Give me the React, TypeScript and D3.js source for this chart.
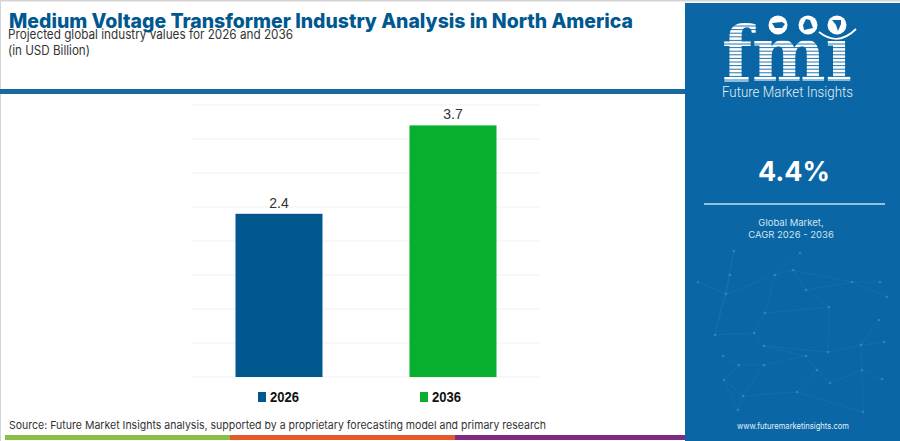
import React, { useEffect } from "react";
import * as d3 from "d3";

const categories = ["2026", "2036"];
const values = [2.4, 3.7];
const barLabels = ["2.4", "3.7"];
const gridTicks = [0, 0.5, 1, 1.5, 2, 2.5, 3, 3.5, 4];
const barColors = ["#00588f", "#08ae2e"];
const stripeColors = ["#8abf45", "#e4592a", "#7f2a85"];
const stripeEdges = [5, 230, 455, 685];

// decoration behind the panel's lower half, panel coordinates
const netNodes: [number, number][] = [
	[734, 251], [730, 275], [698, 282], [726, 294], [775, 275], [793, 270], [800, 253], [806, 290],
	[852, 282], [880, 282], [887, 297], [765, 313], [829, 307], [879, 320], [715, 335], [754, 333],
	[764, 346], [828, 352], [861, 345], [884, 342], [723, 356], [739, 365], [764, 365], [806, 356],
	[817, 370], [724, 380], [743, 396], [797, 392], [830, 383], [862, 370], [738, 410], [863, 412],
	[882, 379],
];
const netLinks: [number, number][] = [
	[0, 3], [2, 3], [3, 4], [4, 5], [5, 7], [6, 4], [5, 8], [8, 9], [7, 8], [8, 10], [4, 11], [11, 15],
	[3, 14], [14, 15], [15, 16], [16, 17], [11, 12], [12, 17], [17, 18], [18, 19], [13, 18], [16, 23],
	[22, 23], [23, 24], [21, 22], [20, 21], [21, 25], [25, 26], [22, 26], [26, 27], [24, 27], [24, 28],
	[28, 29], [29, 31], [18, 29], [27, 31], [25, 30], [26, 30], [29, 32], [7, 12], [1, 3], [0, 14],
];

const width = 900;
const height = 441;

export default function App() {
	useEffect(() => {
		document.body.style.margin = "0";
		document.body.style.background = "#fff";
	}, []);

	const x = d3.scaleBand<string>().domain(categories).range([192, 540]).paddingInner(0.5).paddingOuter(0.25);
	const y = d3.scaleLinear().domain([0, 4]).range([377, 105]);
	const legendX = d3.scalePoint<string>().domain(categories).range([258, 420]);

	const poppins = "Inter, 'Open Sans', sans-serif";
	const logoStripes = d3.range(26, 82, 3.6);

	return (
		<svg width={width} height={height} viewBox={`0 0 ${width} ${height}`} style={{ display: "block" }}>
			<rect x={0} y={0} width={width} height={height} fill="#fff" />
			<rect x={0} y={0} width={width} height={1.5} fill="#d4d4d4" />
			<rect x={0} y={0} width={1} height={height} fill="#d4d4d4" />

			{/* header */}
			<text x={9} y={28} fontFamily={poppins} fontWeight={800} fontSize={20} fill="#00588f" textLength={624} lengthAdjust="spacingAndGlyphs">
				Medium Voltage Transformer Industry Analysis in North America
			</text>
			<text x={8} y={39} fontFamily={poppins} fontSize={13} fill="#333" textLength={285} lengthAdjust="spacingAndGlyphs">
				Projected global industry values for 2026 and 2036
			</text>
			<text x={8} y={55} fontFamily={poppins} fontSize={13} fill="#333" textLength={82} lengthAdjust="spacingAndGlyphs">
				(in USD Billion)
			</text>
			<rect x={0} y={89} width={686} height={5} fill="#17699f" />

			{/* grid */}
			{gridTicks.map((t) => (
				<line key={t} x1={192} x2={540} y1={y(t)} y2={y(t)} stroke="#f2f2f2" strokeWidth={1.2} />
			))}

			{/* bars */}
			{categories.map((c, i) => (
				<g key={c}>
					<rect x={x(c)} y={y(values[i])} width={x.bandwidth()} height={y(0) - y(values[i])} fill={barColors[i]} />
					<text x={x(c)! + x.bandwidth() / 2} y={y(values[i]) - 6} textAnchor="middle" fontFamily="'Liberation Sans', Arial, sans-serif" fontSize={14} fill="#333">
						{barLabels[i]}
					</text>
				</g>
			))}

			{/* legend */}
			{categories.map((c, i) => {
				const lx = legendX(c)!;
				return (
					<g key={c}>
						<rect x={lx} y={392} width={8} height={10} fill={barColors[i]} />
						<text x={lx + 12} y={402} fontFamily="'Liberation Sans', Arial, sans-serif" fontWeight={700} fontSize={14} fill="#111" textLength={29} lengthAdjust="spacingAndGlyphs">
							{c}
						</text>
					</g>
				);
			})}

			{/* source + stripe */}
			<text x={9} y={429} fontFamily={poppins} fontSize={11} fill="#333" textLength={537} lengthAdjust="spacingAndGlyphs">
				Source: Future Market Insights analysis, supported by a proprietary forecasting model and primary research
			</text>
			{stripeColors.map((col, i) => (
				<rect key={col} x={stripeEdges[i]} y={435} width={stripeEdges[i + 1] - stripeEdges[i]} height={5} fill={col} />
			))}

			{/* side panel */}
			<rect x={685} y={3} width={215} height={438} fill="#0a66a4" />

			<g opacity={0.1} stroke="#9fd0ea" strokeWidth={0.7}>
				{netLinks.map(([a, b], i) => (
					<line key={i} x1={netNodes[a][0]} y1={netNodes[a][1]} x2={netNodes[b][0]} y2={netNodes[b][1]} />
				))}
			</g>
			<g opacity={0.22} fill="#b8def2">
				{netNodes.map(([cx, cy], i) => (
					<circle key={i} cx={cx} cy={cy} r={1.3} />
				))}
			</g>

			{/* logo */}
			<text x={722} y={81} fontFamily="'DejaVu Serif', serif" fontWeight={700} fontSize={76} fill="#fff" textLength={130} lengthAdjust="spacingAndGlyphs">
				fmı
			</text>
			{logoStripes.map((sy) => (
				<line key={sy} x1={715} x2={860} y1={sy} y2={sy} stroke="#0a66a4" strokeWidth={0.9} />
			))}
			<circle cx={778} cy={25} r={9.5} fill="#fff" />
			<circle cx={808} cy={25} r={9.5} fill="#fff" />
			<circle cx={837} cy={25} r={9.5} fill="#fff" />
			<path d="M772 23 l10 -1 l3 2 l-3 4 l-7 0 z" fill="#0a66a4" />
			<path d="M806 19 l4 1 l3 8 l-9 2 l-1 -5 z" fill="#0a66a4" />
			<path d="M832 20 l9 0 l0 4 l-3 7 l-2 -6 z" fill="#0a66a4" />
			<path d="M819 32 Q838 47 856 29" fill="none" stroke="#fff" strokeWidth={1.8} />
			<text x={722} y={97} fontFamily="Roboto, sans-serif" fontWeight={300} fontSize={14} fill="#e3f0f8" textLength={131} lengthAdjust="spacingAndGlyphs">
				Future Market Insights
			</text>

			<text x={794} y={181} textAnchor="middle" fontFamily={poppins} fontWeight={700} fontSize={27} fill="#fff">
				4.4%
			</text>
			<rect x={704} y={203} width={181} height={2} fill="#8cc4e6" />
			<text x={791} y={226} textAnchor="middle" fontFamily={poppins} fontSize={9.5} fill="#cfe5f3">
				Global Market,
			</text>
			<text x={791} y={238} textAnchor="middle" fontFamily={poppins} fontSize={9.5} fill="#cfe5f3">
				CAGR 2026 - 2036
			</text>
			<text x={793} y={429} textAnchor="middle" fontFamily={poppins} fontSize={8.5} fill="#e3f0f8" textLength={112} lengthAdjust="spacingAndGlyphs">
				www.futuremarketinsights.com
			</text>
		</svg>
	);
}
